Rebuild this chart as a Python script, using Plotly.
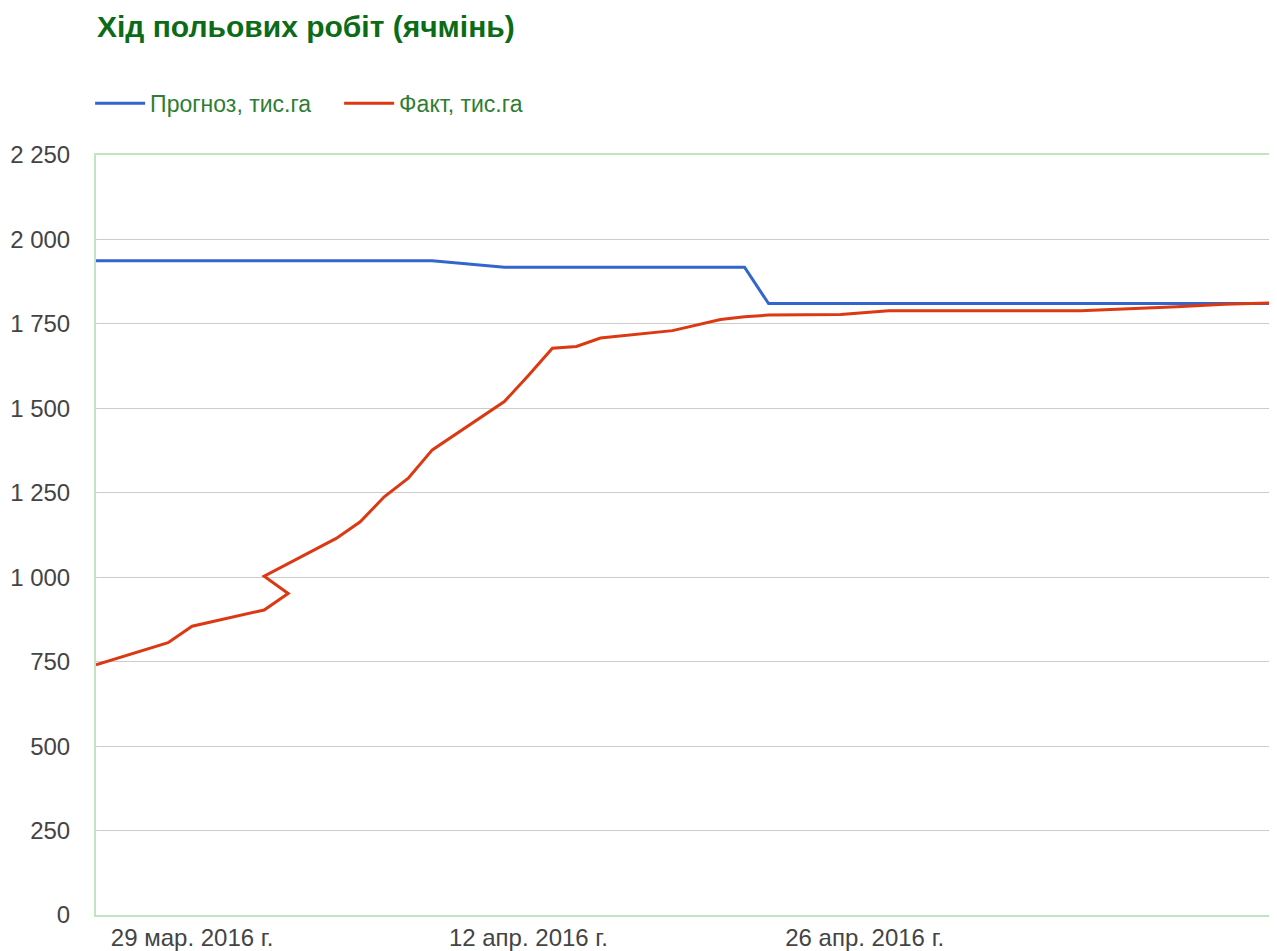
import plotly.graph_objects as go

# ---- data ----
forecast_dates = ["2016-03-25", "2016-04-08", "2016-04-11", "2016-04-21", "2016-04-22", "2016-05-13"]
forecast_vals = [1937, 1937, 1918, 1918, 1810, 1810]

fact_dates = ["2016-03-25", "2016-03-28", "2016-03-29", "2016-04-01", "2016-04-02", "2016-04-01",
              "2016-04-04", "2016-04-05", "2016-04-06", "2016-04-07", "2016-04-08",
              "2016-04-11", "2016-04-12", "2016-04-13", "2016-04-14", "2016-04-15",
              "2016-04-18", "2016-04-19", "2016-04-20", "2016-04-21", "2016-04-22",
              "2016-04-25", "2016-04-27", "2016-05-05", "2016-05-07", "2016-05-09",
              "2016-05-11", "2016-05-13"]
fact_vals = [741, 806, 855, 903, 952, 1003,
             1115, 1164, 1238, 1293, 1377,
             1520, 1597, 1678, 1683, 1708,
             1730, 1747, 1763, 1771, 1776,
             1778, 1789, 1789, 1794, 1801,
             1808, 1812]

tick_dates = ["2016-03-29", "2016-04-12", "2016-04-26"]
tick_labels = ["29 мар. 2016 г.", "12 апр. 2016 г.", "26 апр. 2016 г."]

series_names = ["Прогноз, тис.га", "Факт, тис.га"]
title_text = "Хід польових робіт (ячмінь)"

FONT = "Liberation Sans, Arial, sans-serif"
BORDER = "#c3e3c3"

# the page body adds an 8px margin, so the figure is sized to fit the window
W, H = 1269, 943

fig = go.Figure()
fig.add_trace(go.Scatter(x=forecast_dates, y=forecast_vals, mode="lines",
                         name=series_names[0], line=dict(color="#3366cc", width=3)))
fig.add_trace(go.Scatter(x=fact_dates, y=fact_vals, mode="lines",
                         name=series_names[1], line=dict(color="#dc3912", width=3)))

fig.update_layout(
    width=W, height=H,
    margin=dict(l=88, r=4, t=147, b=36, autoexpand=False),
    paper_bgcolor="white", plot_bgcolor="white",
    separators=", ",
    font=dict(family=FONT, size=20, color="#444444"),
    title=dict(text=title_text, x=89 / W, xanchor="left", y=1 - 18 / H, yanchor="middle",
               font=dict(family=FONT, size=30, color="#0b6b16", weight="bold")),
    showlegend=True,
    legend=dict(orientation="h", x=-0.005, xanchor="left", y=1.068, yanchor="middle",
                font=dict(family=FONT, size=23, color="#2e7d32"),
                itemwidth=50, entrywidth=184, entrywidthmode="pixels",
                bgcolor="rgba(0,0,0,0)"),
    xaxis=dict(type="date", range=["2016-03-25", "2016-05-13"],
               tickvals=tick_dates, ticktext=tick_labels,
               showgrid=False, zeroline=False, automargin=False,
               showline=True, linecolor=BORDER, linewidth=2, mirror=True,
               ticks="",
               tickfont=dict(family=FONT, size=24, color="#444444")),
    yaxis=dict(range=[0, 2250], dtick=250, tickformat=",d",
               showgrid=True, gridcolor="#cccccc", gridwidth=1, zeroline=False, automargin=False,
               showline=True, linecolor=BORDER, linewidth=2, mirror=True,
               ticks="outside", ticklen=19, tickcolor="rgba(0,0,0,0)",
               tickfont=dict(family=FONT, size=24, color="#444444")),
)

fig.write_html("out.html")
